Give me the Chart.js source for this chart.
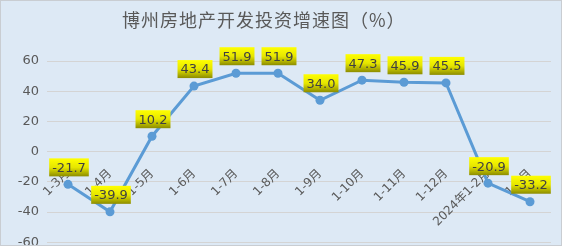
<!DOCTYPE html>
<html><head><meta charset="utf-8">
<script src="https://cdn.jsdelivr.net/npm/chart.js@4"></script>
<style>
html,body{margin:0;padding:0;background:#dde9f5;overflow:hidden;}
#wrap{position:relative;width:562px;height:246px;overflow:hidden;background:#dde9f5;}
#wrap:after{content:"";position:absolute;left:0;top:0;right:0;bottom:0;border:1px solid #c9cdd2;box-sizing:border-box;pointer-events:none;}
#box{position:absolute;left:0;top:0;width:562px;height:258px;}
</style></head>
<body><div id="wrap"><div id="box"><canvas id="c"></canvas></div></div>
<script>
const titleText = '博州房地产开发投资增速图（%）';
const categories = ['1-3月','1-4月','1-5月','1-6月','1-7月','1-8月','1-9月','1-10月','1-11月','1-12月','2024年1-2月','1-3月'];
const growth = [-21.7, -39.9, 10.2, 43.4, 51.9, 51.9, 34.0, 47.3, 45.9, 45.5, -20.9, -33.2];
const yTicks = [-60, -40, -20, 0, 20, 40, 60];

const titlePlugin = {
  id: 'tt',
  afterDraw(chart){
    const ctx = chart.ctx;
    ctx.save();
    ctx.font = '18px "Noto Sans CJK SC", sans-serif';
    if ('letterSpacing' in ctx) ctx.letterSpacing = '1px';
    ctx.fillStyle = '#595959';
    ctx.textAlign = 'left';
    ctx.textBaseline = 'middle';
    ctx.fillText(titleText, 122, 20);
    ctx.restore();
  }
};
const labelPlugin = {
  id: 'lbl',
  afterDatasetsDraw(chart){
    const ctx = chart.ctx;
    const meta = chart.getDatasetMeta(0);
    ctx.save();
    ctx.font = '13px "DejaVu Sans", sans-serif';
    ctx.textAlign = 'center';
    ctx.textBaseline = 'middle';
    meta.data.forEach((pt, i) => {
      const txt = growth[i].toFixed(1);
      const w = ctx.measureText(txt).width + 6;
      const h = 18;
      const cx = pt.x + 1, bottom = pt.y - 8;
      const top = bottom - h;
      const g = ctx.createLinearGradient(0, top, 0, bottom);
      g.addColorStop(0, '#ffff00');
      g.addColorStop(0.5, '#e6e600');
      g.addColorStop(1, '#8c8c00');
      ctx.fillStyle = g;
      ctx.fillRect(cx - w/2, top, w, h);
      ctx.fillStyle = '#404040';
      ctx.fillText(txt, cx, top + h/2 + 1);
    });
    ctx.restore();
  }
};

new Chart(document.getElementById('c'), {
  type: 'line',
  data: {
    labels: categories,
    datasets: [{
      data: growth,
      borderColor: '#5b9bd5',
      backgroundColor: '#5b9bd5',
      borderWidth: 3,
      pointRadius: 4.5,
      pointBackgroundColor: '#5b9bd5',
      pointBorderWidth: 0,
      tension: 0
    }]
  },
  options: {
    responsive: true,
    maintainAspectRatio: false,
    animation: false,
    layout: { padding: { top: 61, right: 11, bottom: 14, left: 0 } },
    plugins: { legend: { display: false }, tooltip: { enabled: false }, title: { display: false } },
    scales: {
      x: {
        position: { y: 0 },
        offset: true,
        grid: { display: false },
        border: { display: false },
        ticks: {
          autoSkip: false, maxRotation: 45, minRotation: 45,
          color: '#595959', font: { size: 12, family: '"DejaVu Sans", "Noto Sans CJK SC", sans-serif' }, padding: 7
        }
      },
      y: {
        min: -60, max: 60,
        afterBuildTicks(s){ s.ticks = yTicks.map(v => ({ value: v })); },
        afterFit(s){ s.width = 47; },
        grid: { color: '#d4d4d4', lineWidth: 1, drawTicks: false },
        border: { display: false },
        ticks: { color: '#595959', font: { size: 13, family: '"DejaVu Sans", sans-serif' }, padding: 8 }
      }
    }
  },
  plugins: [titlePlugin, labelPlugin]
});
</script></body></html>
